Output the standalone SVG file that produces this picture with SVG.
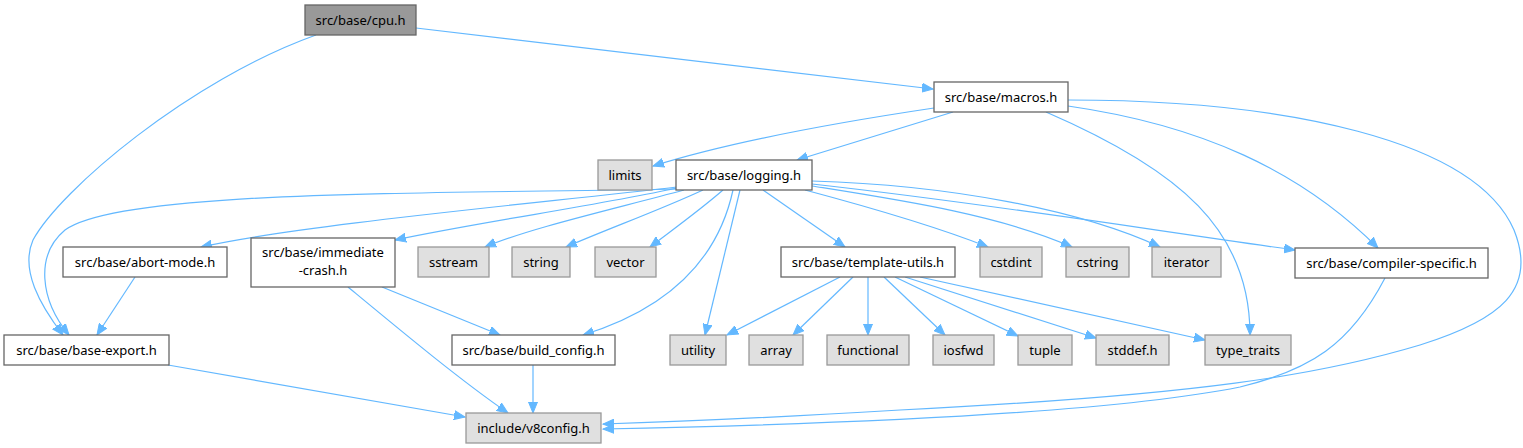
<svg xmlns="http://www.w3.org/2000/svg" width="1523" height="448" viewBox="0 0 1523 448">
<style>
.n rect{fill:#ffffff;stroke:#666666;stroke-width:1.3}
.x rect{fill:#e0e0e0;stroke:#999999;stroke-width:1.3}
.r rect{fill:#999999;stroke:#666666;stroke-width:1.3}
text{font-family:"Noto Sans","DejaVu Sans",sans-serif;font-size:13px;fill:#000000;text-anchor:middle}
.e path{fill:none;stroke:#63b8ff;stroke-width:1.2;marker-end:url(#a)}
</style>
<defs>
<marker id="a" markerUnits="userSpaceOnUse" markerWidth="12" markerHeight="10" viewBox="0 0 12 10" refX="11" refY="5" orient="auto">
<path d="M0,0.5 L11,5 L0,9.5 z" fill="#63b8ff" stroke="#63b8ff" stroke-width="1"/>
</marker>
</defs>
<rect width="1523" height="448" fill="#ffffff"/>
<g class="e" id="edges">
<path d="M416,28 L933,89"/>
<path d="M316,35 C190,80 60,190 33,240 C20,270 40,305 63,335"/>
<path d="M934,108 C820,125 720,145 653,166"/>
<path d="M953,112 L797,160"/>
<path d="M1046,112 C1180,170 1250,230 1250,335"/>
<path d="M1068,106 C1200,125 1300,170 1378,248"/>
<path d="M1068,100 C1285,100 1475,140 1514,230 C1538,290 1500,320 1420,345 C1320,375 1200,395 900,410 C800,416 700,421 603,424"/>
<path d="M677,189 C420,194 120,190 65,230 C35,255 40,300 69,335"/>
<path d="M677,187 C520,205 300,225 201,247"/>
<path d="M677,188 C600,205 480,222 395,240"/>
<path d="M684,190 C610,210 530,228 485,247"/>
<path d="M703,190 C660,210 610,228 566,247"/>
<path d="M723,190 C700,210 675,228 650,247"/>
<path d="M733,190 C720,250 680,305 583,335"/>
<path d="M740,190 L705,335"/>
<path d="M763,190 L845,247"/>
<path d="M805,190 C880,210 940,228 988,247"/>
<path d="M812,186 C900,200 1000,215 1072,247"/>
<path d="M812,181 C950,185 1080,210 1160,247"/>
<path d="M812,184 C1000,205 1150,230 1295,250"/>
<path d="M135,277 L97,335"/>
<path d="M382,287 L500,335"/>
<path d="M348,287 C400,330 460,380 508,413"/>
<path d="M168,365 L465,417"/>
<path d="M533,365 L533,413"/>
<path d="M840,277 L727,335"/>
<path d="M853,277 L793,335"/>
<path d="M868,277 L868,335"/>
<path d="M884,277 L945,335"/>
<path d="M895,277 L1018,336"/>
<path d="M905,277 L1096,338"/>
<path d="M920,277 L1205,340"/>
<path d="M1385,278 C1350,345 1310,370 1240,387 C1100,415 800,425 603,429"/>
</g>
<g id="cpu" class="r"><rect x="305" y="5" width="111" height="30"/><text x="360.5" y="25">src/base/cpu.h</text></g>
<g id="macros" class="n"><rect x="934" y="82" width="134" height="30"/><text x="1001" y="102">src/base/macros.h</text></g>
<g id="limits" class="x"><rect x="598" y="160" width="54" height="30"/><text x="625" y="180">limits</text></g>
<g id="logging" class="n"><rect x="676" y="160" width="136" height="30"/><text x="744" y="180">src/base/logging.h</text></g>
<g id="abortmode" class="n"><rect x="63" y="247" width="164" height="30"/><text x="145" y="267">src/base/abort-mode.h</text></g>
<g id="immediatecrash" class="n"><rect x="251" y="238" width="144" height="49"/><text x="323" y="257">src/base/immediate</text><text x="323" y="275">-crash.h</text></g>
<g id="sstream" class="x"><rect x="418" y="247" width="71" height="30"/><text x="453.5" y="267">sstream</text></g>
<g id="string" class="x"><rect x="512" y="247" width="58" height="30"/><text x="541" y="267">string</text></g>
<g id="vector" class="x"><rect x="595" y="247" width="61" height="30"/><text x="625.5" y="267">vector</text></g>
<g id="templateutils" class="n"><rect x="781" y="247" width="174" height="30"/><text x="868" y="267">src/base/template-utils.h</text></g>
<g id="cstdint" class="x"><rect x="980" y="247" width="62" height="30"/><text x="1011" y="267">cstdint</text></g>
<g id="cstring" class="x"><rect x="1066" y="247" width="63" height="30"/><text x="1097.5" y="267">cstring</text></g>
<g id="iterator" class="x"><rect x="1152" y="247" width="69" height="30"/><text x="1186.5" y="267">iterator</text></g>
<g id="compilerspecific" class="n"><rect x="1295" y="248" width="193" height="30"/><text x="1391.5" y="268">src/base/compiler-specific.h</text></g>
<g id="baseexport" class="n"><rect x="4" y="335" width="165" height="30"/><text x="86.5" y="355">src/base/base-export.h</text></g>
<g id="buildconfig" class="n"><rect x="452" y="335" width="163" height="30"/><text x="533.5" y="355">src/base/build_config.h</text></g>
<g id="utility" class="x"><rect x="670" y="335" width="56" height="30"/><text x="698" y="355">utility</text></g>
<g id="array" class="x"><rect x="749" y="335" width="54" height="30"/><text x="776" y="355">array</text></g>
<g id="functional" class="x"><rect x="827" y="335" width="82" height="30"/><text x="868" y="355">functional</text></g>
<g id="iosfwd" class="x"><rect x="933" y="335" width="61" height="30"/><text x="963.5" y="355">iosfwd</text></g>
<g id="tuple" class="x"><rect x="1018" y="335" width="54" height="30"/><text x="1045" y="355">tuple</text></g>
<g id="stddef" class="x"><rect x="1096" y="335" width="73" height="30"/><text x="1132.5" y="355">stddef.h</text></g>
<g id="typetraits" class="x"><rect x="1205" y="335" width="86" height="30"/><text x="1248" y="355">type_traits</text></g>
<g id="v8config" class="x"><rect x="466" y="413" width="135" height="30"/><text x="533.5" y="433">include/v8config.h</text></g>
</svg>
